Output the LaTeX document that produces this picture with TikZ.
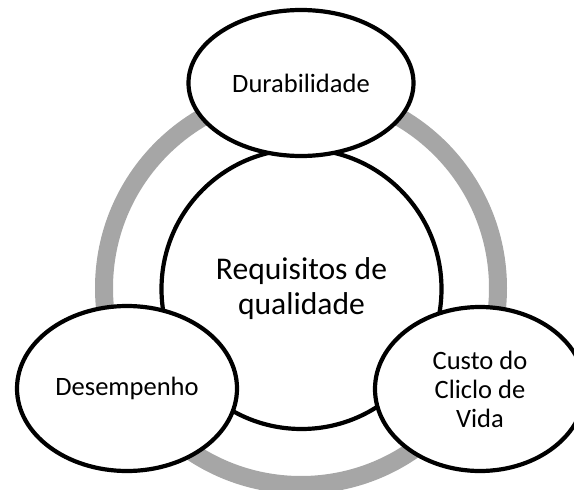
\documentclass[tikz,border=0pt]{standalone}
\usepackage{fontspec}
\setmainfont{Carlito}
\usetikzlibrary{shapes.geometric}
\definecolor{ringgray}{RGB}{166,166,166}
\begin{document}
\begin{tikzpicture}[x=1pt,y=-1pt,
  ringline/.style={draw=ringgray, line width=18pt},
  corecircle/.style={circle, draw=black, line width=4.2pt, fill=white, inner sep=0pt,
    minimum size=280pt, align=center, font=\fontsize{31.6}{35}\selectfont},
  bubble/.style={ellipse, draw=black, line width=4.2pt, fill=white, inner sep=0pt,
    align=center, font=\fontsize{26.5}{29}\selectfont}]
\useasboundingbox (0,0) rectangle (574,490);
\coordinate (ringc) at (301,288);
\draw[ringline] (ringc) circle[radius=197pt];
\node[corecircle] (core) at (301.5,289) {Requisitos de\\qualidade};
\node[bubble, minimum width=225pt, minimum height=146pt] (dur) at (301,83) {Durabilidade};
\node[bubble, minimum width=220pt, minimum height=165pt] (des) at (127,388.5) {Desempenho};
\node[bubble, minimum width=210pt, minimum height=164pt] (cus) at (480,389) {Custo do\\Cliclo de\\Vida};
\end{tikzpicture}
\end{document}
